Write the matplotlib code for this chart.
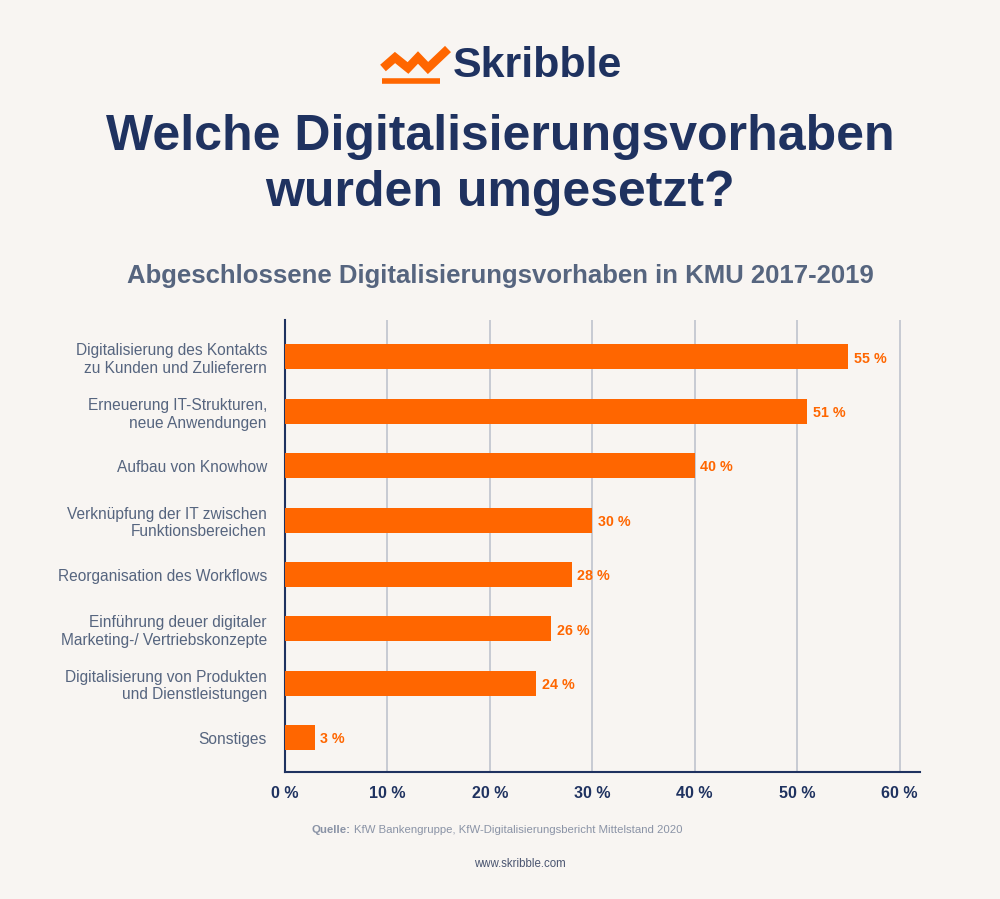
import matplotlib
matplotlib.use("Agg")
import matplotlib.pyplot as plt
from matplotlib.lines import Line2D

categories = [
    "Digitalisierung des Kontakts\nzu Kunden und Zulieferern",
    "Erneuerung IT-Strukturen,\nneue Anwendungen",
    "Aufbau von Knowhow",
    "Verknüpfung der IT zwischen\nFunktionsbereichen",
    "Reorganisation des Workflows",
    "Einführung deuer digitaler\nMarketing-/ Vertriebskonzepte",
    "Digitalisierung von Produkten\nund Dienstleistungen",
    "Sonstiges",
]
values = [55, 51, 40, 30, 28, 26, 24.5, 2.9]
value_labels = ["55 %", "51 %", "40 %", "30 %", "28 %", "26 %", "24 %", "3 %"]
xticks = [0, 10, 20, 30, 40, 50, 60]
xtick_labels = ["0 %", "10 %", "20 %", "30 %", "40 %", "50 %", "60 %"]

BG = "#F8F5F2"
ORANGE = "#FF6600"
NAVY = "#1F3260"
GREY_BLUE = "#56657F"
plt.rcParams['font.family'] = ['Liberation Sans', 'DejaVu Sans']

W, H = 1000, 899
fig = plt.figure(figsize=(W / 100, H / 100), dpi=100, facecolor=BG)

ax = fig.add_axes([285 / W, 1 - 772 / H, (920 - 285) / W, (772 - 320) / H])
ax.set_facecolor(BG)
y = list(range(len(categories)))
ax.barh(y, values, height=0.46, color=ORANGE, zorder=3)
for yi, v, lab in zip(y, values, value_labels):
    ax.text(v + 0.55, yi + 0.03, lab, va="center", ha="left", color=ORANGE,
            fontsize=10.3, fontweight="bold", zorder=4)
ax.set_xlim(0, 62)
ax.set_ylim(7.63, -0.68)
ax.set_yticks(y)
ax.set_yticklabels(categories, fontsize=11.2, color=GREY_BLUE, linespacing=1.22)
ax.set_xticks(xticks)
ax.set_xticklabels(xtick_labels, fontsize=11.5, fontweight="bold", color=NAVY)
ax.tick_params(axis="both", length=0)
ax.tick_params(axis="y", pad=13)
ax.tick_params(axis="x", pad=10)
ax.grid(axis="x", color="#C3C7D0", linewidth=1.3, zorder=0)
for s in ["top", "right"]:
    ax.spines[s].set_visible(False)
ax.spines["left"].set_color(NAVY)
ax.spines["left"].set_linewidth(1.5)
ax.spines["bottom"].set_color(NAVY)
ax.spines["bottom"].set_linewidth(1.5)

# Logo
lx = [383, 395, 408, 418, 428, 448]
ly = [68, 57.5, 68, 57.5, 68, 49]
fig.add_artist(Line2D([p / W for p in lx], [1 - q / H for q in ly],
                      color=ORANGE, linewidth=6.2, solid_joinstyle="miter",
                      solid_capstyle="butt"))
fig.add_artist(Line2D([382 / W, 440 / W], [1 - 80.5 / H, 1 - 80.5 / H],
                      color=ORANGE, linewidth=4, solid_capstyle="butt"))
fig.text(453 / W, 1 - 66 / H, "Skribble", fontsize=31, fontweight="bold",
         color=NAVY, ha="left", va="center")

fig.text(0.5, 1 - 137 / H, "Welche Digitalisierungsvorhaben", fontsize=36,
         fontweight="bold", color=NAVY, ha="center", va="center")
fig.text(0.5, 1 - 193 / H, "wurden umgesetzt?", fontsize=36,
         fontweight="bold", color=NAVY, ha="center", va="center")
fig.text(0.5, 1 - 276 / H, "Abgeschlossene Digitalisierungsvorhaben in KMU 2017-2019",
         fontsize=18.5, fontweight="bold", color=GREY_BLUE, ha="center", va="center")

fig.canvas.draw()
renderer = fig.canvas.get_renderer()
t1 = fig.text(312 / W, 1 - 830 / H, "Quelle:", fontsize=8.2, fontweight="bold",
              color="#8A93A6", ha="left", va="center")
bb = t1.get_window_extent(renderer=renderer)
fig.text((bb.x1 + 3) / W, 1 - 830 / H,
         "KfW Bankengruppe, KfW-Digitalisierungsbericht Mittelstand 2020",
         fontsize=8.2, color="#8A93A6", ha="left", va="center")
fig.text(0.52, 1 - 864 / H, "www.skribble.com", fontsize=8.3, color="#4A5570",
         ha="center", va="center")

fig.savefig("out.png", dpi=100, facecolor=BG)
